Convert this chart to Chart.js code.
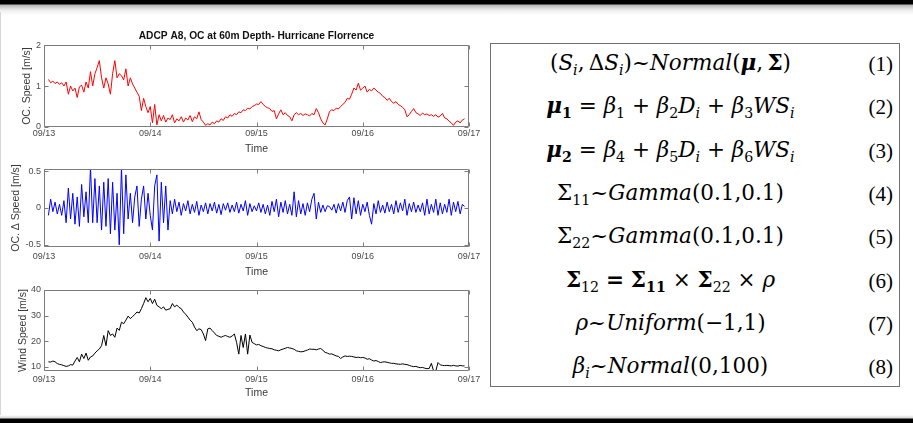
<!DOCTYPE html>
<html>
<head>
<meta charset="utf-8">
<script src="https://cdn.jsdelivr.net/npm/chart.js@4.4.0/dist/chart.umd.min.js"></script>
<style>
body{margin:0;width:913px;height:423px;background:#fff;position:relative;overflow:hidden;font-family:"Liberation Sans",Arial,sans-serif}
.bar-top{position:absolute;left:0;top:0;width:913px;height:15px;background:linear-gradient(#000 0,#000 4px,#b5b5b5 5px,#ececec 10px,#fff 15px)}
.bar-bot{position:absolute;left:0;top:415px;width:913px;height:8px;background:linear-gradient(#fff 0,#d8d8d8 3px,#000 4px,#000 8px)}
.edge{position:absolute;left:0;top:12px;width:1px;height:404px;background:#d6d6d6}
canvas{position:absolute;left:0}
#eqBox{position:absolute;left:490px;top:43px;width:408px;height:342px;border:1.5px solid #707070}
.row{position:absolute;left:0;width:100%;height:43.3px}
.eq{position:absolute;left:0;top:-2px;width:359px;line-height:43.3px;text-align:center;font-family:"DejaVu Serif",serif;font-size:21.5px;white-space:nowrap}
.num{position:absolute;right:6px;top:0;line-height:43.3px;font-family:"Liberation Serif",serif;font-size:21px}
sub{font-size:66%;vertical-align:-0.32em;line-height:0}
</style>
</head>
<body>
<div class="bar-top"></div>
<div class="edge"></div>
<canvas id="speedChart" width="490" height="129" style="top:26px"></canvas>
<canvas id="deltaChart" width="490" height="119" style="top:159px"></canvas>
<canvas id="windChart" width="490" height="119" style="top:280px"></canvas>

<div id="eqBox">
  <div class="row" style="top:-1px"><div class="eq">(<i>S<sub>i</sub></i>,&thinsp;Δ<i>S<sub>i</sub></i>)~<i>Normal</i>(<b><i>μ</i></b>,&thinsp;<b>Σ</b>)</div><div class="num">(1)</div></div>
  <div class="row" style="top:42.3px"><div class="eq"><b><i>μ</i><sub>1</sub></b> = <i>β</i><sub>1</sub> + <i>β</i><sub>2</sub><i>D<sub>i</sub></i> + <i>β</i><sub>3</sub><i>WS<sub>i</sub></i></div><div class="num">(2)</div></div>
  <div class="row" style="top:85.6px"><div class="eq"><b><i>μ</i><sub>2</sub></b> = <i>β</i><sub>4</sub> + <i>β</i><sub>5</sub><i>D<sub>i</sub></i> + <i>β</i><sub>6</sub><i>WS<sub>i</sub></i></div><div class="num">(3)</div></div>
  <div class="row" style="top:128.9px"><div class="eq">Σ<sub>11</sub>~<i>Gamma</i>(0.1,0.1)</div><div class="num">(4)</div></div>
  <div class="row" style="top:172.2px"><div class="eq">Σ<sub>22</sub>~<i>Gamma</i>(0.1,0.1)</div><div class="num">(5)</div></div>
  <div class="row" style="top:215.5px"><div class="eq"><b>Σ</b><sub>12</sub> <b>=</b> <b>Σ<sub>11</sub></b> × <b>Σ</b><sub>22</sub> × <i>ρ</i></div><div class="num">(6)</div></div>
  <div class="row" style="top:258.8px"><div class="eq"><i>ρ</i>~<i>Uniform</i>(−1,1)</div><div class="num">(7)</div></div>
  <div class="row" style="top:302.1px"><div class="eq"><i>β<sub>i</sub></i>~<i>Normal</i>(0,100)</div><div class="num">(8)</div></div>
</div>
<div class="bar-bot"></div>

<script>
// sample times: hours after 09/13 00:00, every half hour
const startHour = 1;
const stepHours = 0.5;

const dayTicks = [0, 24, 48, 72, 96];
const dayLabels = ['09/13', '09/14', '09/15', '09/16', '09/17'];

const speedTicks = [0, 1, 2];
const deltaTicks = [-0.5, 0, 0.5];
const windTicks = [10, 20, 30, 40];

// OC speed [m/s]
const ocSpeed = [
  1.16,1.08,1.12,1.06,1.1,1.04,1.08,1.0,1.1,0.8,1.0,0.88,
  0.95,0.72,0.98,1.02,0.85,1.1,0.95,1.35,1.0,1.3,1.45,1.62,
  1.2,0.95,1.2,1.05,0.8,1.3,1.62,1.2,1.3,1.25,1.15,1.42,
  1.0,1.2,1.05,0.95,0.85,0.75,0.4,0.7,0.5,0.35,0.5,0.1,
  0.55,0.05,0.3,0.15,0.28,0.12,0.22,0.18,0.3,0.1,0.2,0.15,
  0.25,0.12,0.22,0.17,0.28,0.13,0.25,0.2,0.37,0.18,0.12,0.04,
  0.08,0.05,0.12,0.08,0.15,0.12,0.2,0.16,0.25,0.22,0.3,0.26,
  0.33,0.3,0.37,0.35,0.42,0.4,0.46,0.44,0.5,0.52,0.56,0.55,
  0.62,0.55,0.5,0.47,0.45,0.38,0.4,0.2,0.32,0.42,0.3,0.35,
  0.28,0.25,0.15,0.3,0.35,0.3,0.33,0.28,0.32,0.3,0.27,0.33,
  0.3,0.45,0.35,0.2,0.1,0.05,0.2,0.38,0.42,0.4,0.46,0.44,
  0.5,0.55,0.6,0.7,0.68,0.8,0.95,0.9,1.07,0.9,0.95,1.0,
  0.85,0.92,0.88,0.95,0.9,0.85,0.82,0.75,0.72,0.65,0.7,0.62,
  0.58,0.62,0.55,0.52,0.48,0.42,0.25,0.3,0.38,0.45,0.35,0.32,
  0.28,0.34,0.3,0.32,0.28,0.3,0.26,0.3,0.24,0.27,0.33,0.22,
  0.2,0.14,0.1,0.04,0.12,0.15,0.1,0.17,0.2
];

// OC delta speed [m/s]
const ocDelta = [
  -0.1,0.12,-0.05,0.08,-0.08,0.05,-0.1,0.1,-0.2,0.27,-0.15,0.2,
  -0.22,0.15,-0.25,0.32,-0.12,0.22,-0.2,0.55,-0.2,0.4,-0.2,0.3,
  -0.3,0.35,-0.25,0.4,-0.35,0.35,-0.3,0.2,-0.5,0.55,-0.35,0.45,
  -0.15,0.2,-0.2,0.15,0.3,-0.25,0.12,0.3,-0.15,0.2,-0.1,-0.3,
  0.3,0.45,-0.45,0.35,-0.2,0.3,-0.3,0.1,-0.08,0.12,-0.05,0.08,
  -0.1,0.06,-0.04,0.1,-0.08,0.05,-0.06,0.09,-0.1,0.04,-0.05,0.07,
  -0.08,0.06,-0.04,0.08,-0.07,0.05,-0.09,0.06,-0.03,0.07,-0.06,0.04,
  -0.05,0.08,-0.07,0.05,-0.04,0.1,-0.1,0.06,-0.05,0.03,-0.04,0.07,
  -0.06,0.05,-0.08,0.04,-0.1,0.09,-0.05,0.12,-0.12,0.08,-0.06,0.1,
  -0.08,0.05,-0.1,0.22,-0.12,0.1,-0.08,0.06,-0.1,0.07,-0.05,0.12,
  0.2,-0.15,0.08,-0.06,0.04,-0.05,0.03,0.02,-0.03,0.05,-0.07,0.06,
  -0.04,0.08,-0.06,0.1,0.15,-0.15,0.14,-0.08,0.1,-0.1,0.05,-0.05,
  0.08,-0.1,-0.22,0.06,-0.08,0.1,-0.06,0.04,-0.07,0.08,-0.05,0.05,
  -0.08,0.1,-0.06,0.07,-0.04,0.12,-0.1,0.06,-0.05,0.08,-0.06,0.04,
  -0.05,0.07,-0.1,0.12,-0.08,0.05,-0.06,0.12,-0.1,0.07,-0.08,0.05,
  -0.06,0.12,-0.1,0.08,-0.05,0.09,-0.08,0.05,0.02
];

// wind speed [m/s]
const windSpeed = [
  11.9,11.8,12.2,11.9,11.2,10.9,10.7,10.4,10.1,10.3,10.8,10.6,
  12.2,13.6,11.9,14.9,13.2,15.3,12.5,13.8,14.2,15.3,16.2,16.9,
  18.2,22.2,18.2,24.1,22.2,22.8,21.5,25.1,24.2,27.4,26.8,28.2,
  29.8,28.8,29.6,30.4,31.4,31.0,32.7,34.7,37.0,35.4,36.7,34.7,
  36.4,34.0,33.4,32.7,33.4,32.1,32.4,32.7,34.7,33.4,34.1,33.2,
  32.7,31.4,30.5,29.4,28.2,27.4,25.5,24.1,24.8,24.5,22.8,20.2,
  24.8,25.1,24.1,23.2,22.2,21.9,21.5,21.9,22.2,21.8,21.5,22.0,
  22.8,19.5,14.9,22.2,17.5,22.8,14.9,22.4,19.5,19.0,18.5,18.7,
  18.2,17.9,17.5,17.3,17.1,17.0,16.6,16.4,16.2,16.6,16.9,17.2,
  17.5,17.3,17.1,16.8,16.2,16.0,15.8,15.9,16.2,16.5,16.9,16.8,
  16.8,16.6,16.9,17.1,16.4,15.6,15.3,14.9,15.0,14.6,14.2,14.0,
  13.2,13.8,14.2,14.0,14.1,14.0,13.8,13.6,13.7,13.5,13.6,13.4,
  12.9,13.1,12.6,12.2,12.4,12.0,11.6,11.8,11.9,11.7,11.5,11.3,
  11.3,11.1,11.0,10.9,11.1,10.9,10.8,10.5,10.2,10.0,10.1,9.8,
  9.6,9.7,9.4,9.2,9.3,11.3,8.3,8.3,11.6,10.7,10.5,10.4,
  10.5,10.4,10.3,10.5,10.3,10.2,10.5,10.3,10.3
];

const tickFont = { family: '"Liberation Sans", Arial, sans-serif', size: 9 };
const labelFont = { family: '"Liberation Sans", Arial, sans-serif', size: 10.5 };
const tickColor = '#4a4a4a';

function toPoints(vals) {
  return vals.map((v, i) => ({ x: startHour + i * stepHours, y: v }));
}

// matlab style box with inward ticks on every side
const boxTicks = {
  id: 'boxTicks',
  afterDatasetsDraw(chart) {
    const { ctx, chartArea: a, scales: { x, y } } = chart;
    const L = Math.round(a.left) + 0.5, R = Math.round(a.right) - 0.5;
    const T = Math.round(a.top) + 0.5, B = Math.round(a.bottom) - 0.5;
    ctx.save();
    ctx.strokeStyle = '#7d7d7d';
    ctx.lineWidth = 1;
    ctx.beginPath();
    y.ticks.forEach(t => {
      const py = Math.round(y.getPixelForValue(t.value)) + 0.5;
      ctx.moveTo(L, py); ctx.lineTo(L + 4, py);
      ctx.moveTo(R, py); ctx.lineTo(R - 4, py);
    });
    x.ticks.forEach(t => {
      const px = Math.round(x.getPixelForValue(t.value)) + 0.5;
      ctx.moveTo(px, B); ctx.lineTo(px, B - 4);
      ctx.moveTo(px, T); ctx.lineTo(px, T + 4);
    });
    ctx.rect(L, T, R - L, B - T);
    ctx.stroke();
    ctx.restore();
  }
};

function makePlot(id, p) {
  return new Chart(document.getElementById(id), {
    type: 'line',
    data: {
      datasets: [{
        data: toPoints(p.values),
        borderColor: p.color,
        borderWidth: 1,
        pointRadius: 0,
        tension: 0
      }]
    },
    options: {
      responsive: false,
      animation: false,
      devicePixelRatio: 1,
      layout: { padding: { top: p.padTop, right: 21, bottom: 0, left: 0 } },
      plugins: {
        legend: { display: false },
        tooltip: { enabled: false },
        title: p.title ? {
          display: true, text: p.title, color: '#111', fullSize: false,
          font: { family: '"Liberation Sans", Arial, sans-serif', size: 10.2, weight: 'bold' },
          padding: { top: 4.5, bottom: 2.3 }
        } : { display: false }
      },
      scales: {
        x: {
          type: 'linear', min: 0, max: 96,
          grid: { display: false, drawTicks: false }, border: { display: false },
          afterBuildTicks: s => { s.ticks = dayTicks.map(v => ({ value: v })); },
          ticks: { callback: (v, i) => dayLabels[i], font: tickFont, color: tickColor, padding: p.xTickPad, maxRotation: 0, autoSkip: false },
          title: { display: true, text: 'Time', font: labelFont, color: '#3a3a3a', padding: { top: 0, bottom: 0 } },
          afterFit: s => { s.height = p.xHeight; }
        },
        y: {
          min: p.min, max: p.max,
          grid: { display: false, drawTicks: false }, border: { display: false },
          afterBuildTicks: s => { s.ticks = p.ticks.map(v => ({ value: v })); },
          ticks: { callback: v => String(v), font: tickFont, color: tickColor, padding: 3 },
          title: { display: true, text: p.yLabel, font: labelFont, color: '#3a3a3a', padding: { top: p.yTitlePad, bottom: 0 } },
          afterFit: s => { s.width = 44; }
        }
      }
    },
    plugins: [boxTicks]
  });
}

makePlot('speedChart', {
  values: ocSpeed, color: '#ff0000', min: 0, max: 2, ticks: speedTicks,
  yLabel: 'OC. Speed [m/s]', title: 'ADCP A8, OC at 60m Depth- Hurricane Florrence',
  padTop: 0, xHeight: 28, xTickPad: 1.5, yTitlePad: 21
});

makePlot('deltaChart', {
  values: ocDelta, color: '#0000ff', min: -0.53, max: 0.53, ticks: deltaTicks,
  yLabel: 'OC. \u0394 Speed [m/s]',
  padTop: 10, xHeight: 31, xTickPad: 4.5, yTitlePad: 10
});

makePlot('windChart', {
  values: windSpeed, color: '#000000', min: 8.3, max: 40, ticks: windTicks,
  yLabel: 'Wind Speed [m/s]',
  padTop: 10, xHeight: 28, xTickPad: 3.5, yTitlePad: 17
});
</script>
</body>
</html>
